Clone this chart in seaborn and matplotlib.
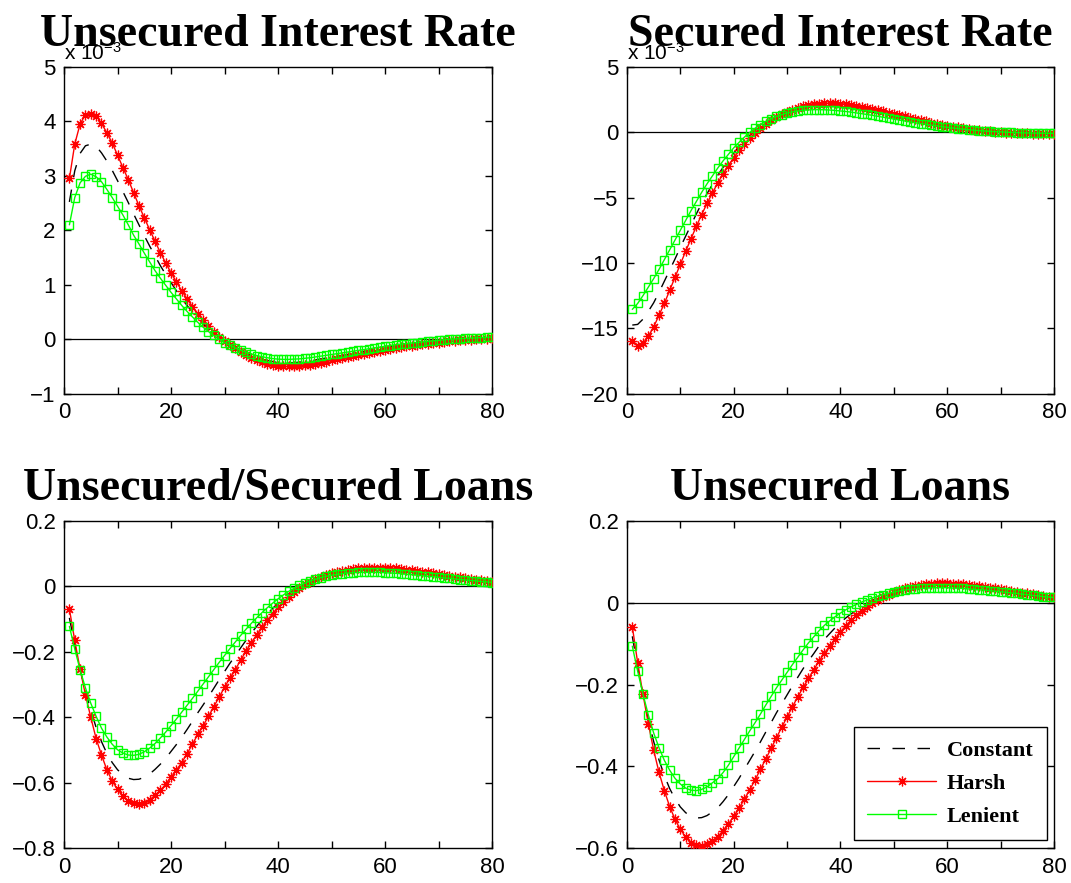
import numpy as np
import pandas as pd
import matplotlib
matplotlib.use("Agg")
import matplotlib.pyplot as plt
import seaborn as sns
from matplotlib.ticker import MultipleLocator, FuncFormatter

# ---------------- data ----------------
periods = list(range(1, 81))
series_names = ["Constant", "Harsh", "Lenient"]
titles = ["Unsecured Interest Rate", "Secured Interest Rate",
          "Unsecured/Secured Loans", "Unsecured Loans"]

# Unsecured interest rate (x 1e-3)
uir_constant = [2.52, 3.09, 3.41, 3.55, 3.58, 3.54, 3.42, 3.27, 3.10, 2.91,
                2.71, 2.51, 2.30, 2.10, 1.90, 1.71, 1.53, 1.35, 1.19, 1.04,
                0.89, 0.75, 0.62, 0.50, 0.39, 0.28, 0.19, 0.10, 0.02, -0.05,
                -0.11, -0.17, -0.22, -0.26, -0.30, -0.34, -0.37, -0.39, -0.41, -0.43,
                -0.43, -0.43, -0.43, -0.42, -0.41, -0.40, -0.38, -0.36, -0.345, -0.33,
                -0.31, -0.295, -0.28, -0.26, -0.24, -0.225, -0.21, -0.19, -0.17, -0.155,
                -0.14, -0.125, -0.11, -0.10, -0.09, -0.075, -0.065, -0.055, -0.045, -0.035,
                -0.025, -0.015, -0.01, -0.005, 0.0, 0.005, 0.01, 0.015, 0.02, 0.025]
uir_harsh = [2.95, 3.58, 3.95, 4.12, 4.14, 4.10, 3.96, 3.79, 3.60, 3.38,
             3.15, 2.93, 2.69, 2.45, 2.23, 2.01, 1.80, 1.59, 1.40, 1.22,
             1.05, 0.89, 0.74, 0.60, 0.47, 0.35, 0.24, 0.14, 0.05, -0.03,
             -0.10, -0.17, -0.23, -0.29, -0.34, -0.38, -0.42, -0.45, -0.47, -0.49,
             -0.50, -0.50, -0.50, -0.49, -0.48, -0.465, -0.45, -0.43, -0.41, -0.39,
             -0.37, -0.35, -0.33, -0.31, -0.29, -0.27, -0.25, -0.23, -0.21, -0.19,
             -0.175, -0.16, -0.145, -0.13, -0.115, -0.10, -0.09, -0.08, -0.07, -0.06,
             -0.05, -0.04, -0.03, -0.02, -0.015, -0.01, 0.0, 0.005, 0.01, 0.02]
uir_lenient = [2.10, 2.60, 2.87, 2.99, 3.03, 2.98, 2.89, 2.75, 2.60, 2.44,
               2.28, 2.10, 1.91, 1.75, 1.58, 1.42, 1.26, 1.12, 0.99, 0.86,
               0.74, 0.62, 0.51, 0.41, 0.31, 0.22, 0.14, 0.07, 0.00, -0.06,
               -0.11, -0.16, -0.20, -0.24, -0.27, -0.30, -0.32, -0.34, -0.355, -0.365,
               -0.37, -0.37, -0.365, -0.36, -0.35, -0.34, -0.325, -0.31, -0.295, -0.28,
               -0.265, -0.25, -0.235, -0.22, -0.205, -0.19, -0.175, -0.16, -0.145, -0.13,
               -0.115, -0.10, -0.09, -0.08, -0.07, -0.06, -0.05, -0.04, -0.03, -0.02,
               -0.01, 0.0, 0.005, 0.01, 0.015, 0.02, 0.025, 0.03, 0.035, 0.04]

# Secured interest rate (x 1e-3)
sir_constant = [-14.75, -14.7, -14.3, -13.7, -13.05, -12.25, -11.4, -10.55, -9.7, -8.8,
                -7.95, -7.1, -6.25, -5.45, -4.7, -4.0, -3.3, -2.7, -2.1, -1.6,
                -1.1, -0.65, -0.25, 0.12, 0.44, 0.71, 0.96, 1.17, 1.35, 1.51,
                1.63, 1.74, 1.82, 1.88, 1.92, 1.95, 1.95, 1.95, 1.93, 1.90,
                1.86, 1.81, 1.75, 1.68, 1.61, 1.53, 1.45, 1.37, 1.28, 1.20,
                1.11, 1.03, 0.94, 0.86, 0.78, 0.71, 0.63, 0.56, 0.49, 0.43,
                0.37, 0.31, 0.26, 0.21, 0.17, 0.13, 0.09, 0.06, 0.03, 0.01,
                -0.01, -0.03, -0.05, -0.07, -0.08, -0.09, -0.10, -0.10, -0.11, -0.11]
sir_harsh = [-15.95, -16.33, -16.15, -15.6, -14.9, -14.0, -13.1, -12.1, -11.1, -10.1,
             -9.1, -8.15, -7.2, -6.3, -5.45, -4.65, -3.9, -3.2, -2.55, -1.95,
             -1.4, -0.9, -0.45, -0.05, 0.3, 0.6, 0.9, 1.15, 1.37, 1.56,
             1.72, 1.86, 1.97, 2.06, 2.13, 2.18, 2.2, 2.21, 2.2, 2.18,
             2.14, 2.09, 2.03, 1.96, 1.88, 1.79, 1.70, 1.60, 1.50, 1.40,
             1.30, 1.20, 1.10, 1.00, 0.91, 0.82, 0.73, 0.65, 0.57, 0.49,
             0.42, 0.36, 0.30, 0.24, 0.19, 0.14, 0.10, 0.06, 0.03, 0.0,
             -0.03, -0.05, -0.07, -0.09, -0.10, -0.11, -0.12, -0.13, -0.14, -0.14]
sir_lenient = [-13.55, -13.1, -12.5, -11.85, -11.2, -10.5, -9.75, -9.0, -8.25, -7.5,
               -6.75, -6.0, -5.3, -4.6, -3.95, -3.35, -2.75, -2.2, -1.7, -1.2,
               -0.78, -0.38, -0.02, 0.3, 0.58, 0.82, 1.03, 1.2, 1.34, 1.46,
               1.55, 1.62, 1.67, 1.70, 1.72, 1.72, 1.71, 1.69, 1.66, 1.62,
               1.58, 1.53, 1.47, 1.41, 1.35, 1.28, 1.21, 1.14, 1.07, 1.0,
               0.93, 0.86, 0.79, 0.72, 0.66, 0.6, 0.54, 0.48, 0.42, 0.37,
               0.32, 0.27, 0.23, 0.19, 0.15, 0.12, 0.09, 0.06, 0.04, 0.02,
               0.0, -0.02, -0.03, -0.05, -0.06, -0.07, -0.08, -0.08, -0.09, -0.09]

# Unsecured / secured loans
usl_constant = [-0.096, -0.178, -0.254, -0.32, -0.378, -0.431, -0.474, -0.51, -0.538, -0.56,
                -0.575, -0.586, -0.59, -0.589, -0.583, -0.573, -0.559, -0.543, -0.525, -0.504,
                -0.483, -0.461, -0.437, -0.412, -0.386, -0.362, -0.337, -0.311, -0.285, -0.26,
                -0.235, -0.212, -0.188, -0.165, -0.143, -0.122, -0.103, -0.084, -0.067, -0.051,
                -0.037, -0.023, -0.012, -0.001, 0.008, 0.016, 0.023, 0.029, 0.034, 0.038,
                0.041, 0.044, 0.046, 0.048, 0.049, 0.05, 0.05, 0.05, 0.05, 0.05,
                0.049, 0.048, 0.046, 0.044, 0.043, 0.041, 0.039, 0.037, 0.035, 0.033,
                0.031, 0.029, 0.027, 0.025, 0.023, 0.021, 0.019, 0.017, 0.016, 0.014]
usl_harsh = [-0.069, -0.165, -0.253, -0.331, -0.40, -0.465, -0.515, -0.56, -0.594, -0.62,
             -0.64, -0.656, -0.663, -0.665, -0.661, -0.652, -0.638, -0.623, -0.604, -0.583,
             -0.561, -0.538, -0.511, -0.482, -0.452, -0.425, -0.397, -0.367, -0.338, -0.308,
             -0.28, -0.254, -0.226, -0.198, -0.172, -0.148, -0.125, -0.103, -0.083, -0.064,
             -0.047, -0.031, -0.017, -0.005, 0.006, 0.015, 0.023, 0.03, 0.036, 0.041,
             0.045, 0.048, 0.051, 0.053, 0.055, 0.056, 0.057, 0.057, 0.057, 0.057,
             0.056, 0.055, 0.053, 0.051, 0.049, 0.047, 0.045, 0.043, 0.04, 0.038,
             0.035, 0.033, 0.03, 0.028, 0.026, 0.023, 0.021, 0.019, 0.017, 0.015]
usl_lenient = [-0.122, -0.191, -0.255, -0.31, -0.357, -0.397, -0.433, -0.46, -0.482, -0.499,
               -0.509, -0.515, -0.516, -0.513, -0.505, -0.494, -0.48, -0.463, -0.445, -0.425,
               -0.405, -0.384, -0.363, -0.342, -0.32, -0.298, -0.276, -0.254, -0.232, -0.211,
               -0.19, -0.17, -0.15, -0.131, -0.113, -0.096, -0.08, -0.065, -0.051, -0.038,
               -0.026, -0.015, -0.006, 0.003, 0.01, 0.017, 0.022, 0.027, 0.031, 0.034,
               0.037, 0.039, 0.041, 0.042, 0.043, 0.043, 0.043, 0.043, 0.043, 0.042,
               0.041, 0.04, 0.039, 0.037, 0.036, 0.034, 0.033, 0.031, 0.03, 0.028,
               0.026, 0.025, 0.023, 0.021, 0.02, 0.018, 0.017, 0.015, 0.014, 0.012]

# Unsecured loans
ul_constant = [-0.082, -0.157, -0.224, -0.285, -0.339, -0.384, -0.422, -0.454, -0.479, -0.499,
               -0.513, -0.522, -0.526, -0.525, -0.52, -0.511, -0.501, -0.486, -0.469, -0.449,
               -0.429, -0.407, -0.385, -0.363, -0.34, -0.316, -0.293, -0.269, -0.247, -0.225,
               -0.203, -0.182, -0.161, -0.142, -0.124, -0.105, -0.089, -0.075, -0.061, -0.048,
               -0.037, -0.027, -0.018, -0.009, -0.002, 0.006, 0.012, 0.017, 0.022, 0.026,
               0.03, 0.033, 0.036, 0.038, 0.04, 0.041, 0.042, 0.043, 0.043, 0.043,
               0.042, 0.041, 0.04, 0.039, 0.038, 0.037, 0.035, 0.034, 0.032, 0.03,
               0.029, 0.027, 0.025, 0.023, 0.022, 0.02, 0.018, 0.016, 0.015, 0.013]
ul_harsh = [-0.058, -0.146, -0.224, -0.295, -0.36, -0.414, -0.459, -0.498, -0.529, -0.554,
            -0.572, -0.586, -0.592, -0.594, -0.59, -0.582, -0.572, -0.557, -0.541, -0.522,
            -0.502, -0.48, -0.457, -0.433, -0.407, -0.382, -0.356, -0.33, -0.304, -0.279,
            -0.254, -0.23, -0.207, -0.185, -0.164, -0.142, -0.123, -0.105, -0.088, -0.071,
            -0.056, -0.043, -0.031, -0.02, -0.01, -0.001, 0.007, 0.014, 0.02, 0.026,
            0.031, 0.035, 0.039, 0.042, 0.044, 0.046, 0.047, 0.048, 0.048, 0.048,
            0.047, 0.046, 0.045, 0.044, 0.042, 0.041, 0.039, 0.037, 0.035, 0.033,
            0.031, 0.029, 0.027, 0.025, 0.023, 0.021, 0.019, 0.017, 0.015, 0.013]
ul_lenient = [-0.106, -0.167, -0.223, -0.274, -0.318, -0.354, -0.385, -0.409, -0.429, -0.443,
              -0.453, -0.458, -0.459, -0.456, -0.45, -0.44, -0.43, -0.415, -0.397, -0.376,
              -0.355, -0.334, -0.313, -0.293, -0.272, -0.25, -0.229, -0.208, -0.189, -0.17,
              -0.151, -0.133, -0.115, -0.098, -0.083, -0.068, -0.055, -0.044, -0.034, -0.025,
              -0.017, -0.01, -0.004, 0.002, 0.007, 0.012, 0.016, 0.02, 0.023, 0.026,
              0.029, 0.031, 0.033, 0.034, 0.035, 0.036, 0.037, 0.037, 0.037, 0.037,
              0.036, 0.036, 0.035, 0.034, 0.033, 0.032, 0.031, 0.03, 0.028, 0.027,
              0.026, 0.024, 0.023, 0.021, 0.02, 0.018, 0.017, 0.015, 0.014, 0.013]

y_limits = [(-1, 5), (-20, 5), (-0.8, 0.2), (-0.6, 0.2)]
y_steps = [1, 5, 0.2, 0.2]
exponent_label = "x 10$^{-3}$"

panels = [
    (uir_constant, uir_harsh, uir_lenient),
    (sir_constant, sir_harsh, sir_lenient),
    (usl_constant, usl_harsh, usl_lenient),
    (ul_constant, ul_harsh, ul_lenient),
]

# ---------------- style ----------------
sns.set_style("ticks")
plt.rcParams["font.family"] = ["Liberation Sans", "DejaVu Sans"]
plt.rcParams["mathtext.default"] = "regular"
plt.rcParams["axes.linewidth"] = 1.0
plt.rcParams["text.color"] = "black"
plt.rcParams["axes.labelcolor"] = "black"
plt.rcParams["axes.titlecolor"] = "black"

fig = plt.figure(figsize=(10.71, 8.83), dpi=100)
positions = [
    [0.0598, 0.5541, 0.3996, 0.3703],
    [0.5854, 0.5541, 0.3987, 0.3703],
    [0.0598, 0.0393, 0.3996, 0.3707],
    [0.5854, 0.0393, 0.3987, 0.3707],
]

def fmt(v, pos):
    s = "%g" % round(v, 6)
    return s.replace("-", "\u2212")

for i, (pos, data) in enumerate(zip(positions, panels)):
    ax = fig.add_axes(pos)
    ax.axhline(0, color="black", lw=0.9, zorder=1)
    c_vals, h_vals, l_vals = data
    sns.lineplot(x=periods, y=c_vals, ax=ax, color="black", lw=1.0,
                 label=series_names[0], zorder=2)
    ax.lines[-1].set_dashes([9, 9])
    sns.lineplot(x=periods, y=h_vals, ax=ax, color=(1, 0, 0), lw=1.0,
                 marker=(8, 2, 0), markersize=7, markeredgewidth=0.9,
                 markeredgecolor=(1, 0, 0), label=series_names[1], zorder=3)
    sns.lineplot(x=periods, y=l_vals, ax=ax, color=(0, 1, 0), lw=1.0,
                 marker="s", markersize=6, markerfacecolor="none",
                 markeredgewidth=1.0, markeredgecolor=(0, 1, 0),
                 label=series_names[2], zorder=4)
    ax.set_xlim(0, 80)
    ax.set_ylim(*y_limits[i])
    ax.xaxis.set_major_locator(MultipleLocator(20))
    ax.xaxis.set_minor_locator(MultipleLocator(10))
    ax.yaxis.set_major_locator(MultipleLocator(y_steps[i]))
    ax.yaxis.set_major_formatter(FuncFormatter(fmt))
    ax.tick_params(which="both", direction="in", top=True, right=True,
                   labelsize=16, width=1.0, colors="black")
    ax.tick_params(which="major", length=5, pad=6)
    ax.tick_params(which="minor", length=5)
    for sp in ax.spines.values():
        sp.set_visible(True)
        sp.set_color("black")
    ax.set_xlabel("")
    ax.set_ylabel("")
    ax.set_title(titles[i], fontsize=33, fontweight="bold", color="black",
                 family="Liberation Serif", pad=15, zorder=10)
    if i < 2:
        ax.text(0.0, 1.01, exponent_label, transform=ax.transAxes,
                ha="left", va="bottom", fontsize=15, color="black", zorder=1)
    if i == 3:
        handles, labels = ax.get_legend_handles_labels()
        leg = ax.legend(handles, labels, loc="lower right",
                        bbox_to_anchor=(0.984, 0.025), borderaxespad=0,
                        frameon=True, fancybox=False, framealpha=1,
                        edgecolor="black", handlelength=3.1,
                        handletextpad=0.5, labelspacing=0.55,
                        borderpad=0.6,
                        prop={"family": "Liberation Serif", "weight": "bold",
                              "size": 16})
        leg.get_frame().set_linewidth(1.0)
    else:
        lg = ax.get_legend()
        if lg is not None:
            lg.remove()

fig.savefig("out.png", dpi=100)
